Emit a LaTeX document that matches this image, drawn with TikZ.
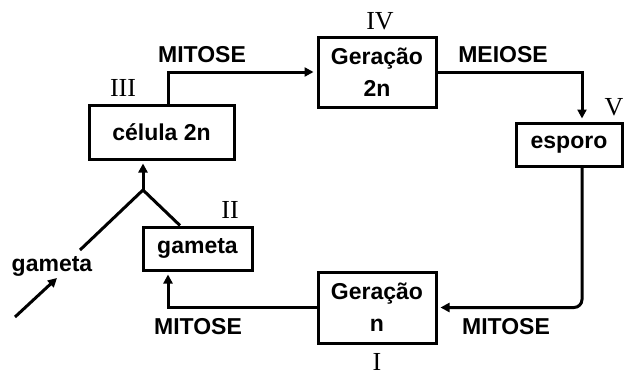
\documentclass[tikz,border=0pt]{standalone}
\usepackage{fontspec}
\setmainfont{Liberation Serif}
\setsansfont{Liberation Sans}
\usetikzlibrary{arrows.meta}

\begin{document}
\begin{tikzpicture}[x=10pt, y=10pt,
    box/.style={draw, line width=3pt, inner sep=0pt, align=center,
                font=\sffamily\bfseries\fontsize{23}{32}\selectfont},
    lbl/.style={font=\sffamily\bfseries\fontsize{23}{27}\selectfont},
    num/.style={font=\rmfamily\fontsize{26}{30}\selectfont, inner sep=1pt},
    link/.style={line width=3pt},
    flow/.style={link, -{Triangle[length=9pt, width=9pt]}, shorten >=3pt}]

% Background
\useasboundingbox (0,0) rectangle (62.6,37.6);

% === STAGES ===
\node[box, minimum width=145pt, minimum height=54pt] (cel) at (16.15,24.4) {célula 2n};
\node[box, minimum width=118pt, minimum height=70pt] (g2n) at (37.7,30.4) {Geração\\2n};
\node[box, minimum width=106pt, minimum height=43pt] (esp) at (56.9,23.15) {esporo};
\node[box, minimum width=118pt, minimum height=71pt] (gn) at (37.7,6.85) {Geração\\n};
\node[box, minimum width=109pt, minimum height=43pt] (gam) at (19.75,12.75) {gameta};

% === NUMERALS ===
\node[num] (nIII) at (12.3,28.8) {III};
\node[num] (nIV) at (38.0,35.5) {IV};
\node[num] (nV) at (61.4,26.9) {V};
\node[num] (nII) at (23.0,16.6) {II};
\node[num] (nI) at (37.7,1.4) {I};

% === CYCLE ===
\draw[flow] ([xshift=6.5pt]cel.north) |- (g2n.west);
\node[lbl] (mitA) at (20.2,32.1) {MITOSE};
\draw[flow] (g2n.east) -| ([xshift=13pt]esp.north);
\node[lbl] (mei) at (50.3,32.1) {MEIOSE};
\draw[flow, rounded corners=8pt] ([xshift=13pt]esp.south) |- (gn.east);
\node[lbl] (mitB) at (50.6,4.9) {MITOSE};
\draw[flow] (gn.west) -| ([xshift=-29.5pt]gam.south);
\node[lbl] (mitC) at (19.8,4.9) {MITOSE};

% === FUSION ===
\coordinate (fus) at (14.3,18.6);
\coordinate (fusL) at (8.0,12.6);
\draw[flow] (fus) -- (fus |- cel.south);
\draw[link] (fus) -- ([xshift=-17.5pt]gam.north);
\draw[link] (fus) -- (fusL);
\node[lbl] (gamL) at (5.2,11.0) {gameta};
\coordinate (inA) at (1.5,5.9);
\coordinate (inB) at (5.7,9.8);
\draw[link, -{Triangle[length=9pt, width=9pt]}] (inA) -- (inB);

\end{tikzpicture}
\end{document}
